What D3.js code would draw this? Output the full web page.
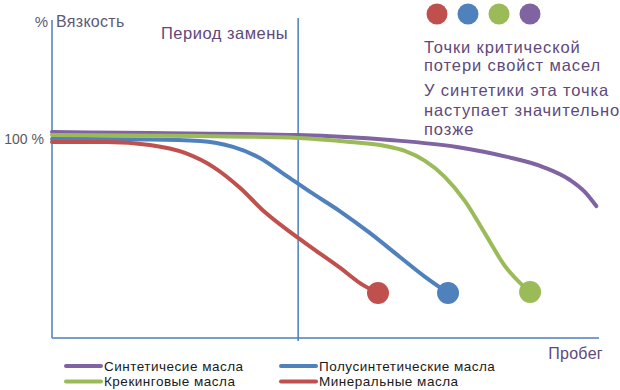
<!DOCTYPE html>
<html>
<head>
<meta charset="utf-8">
<script src="https://cdn.jsdelivr.net/npm/d3@7"></script>
<style>
  html, body { margin: 0; padding: 0; background: #fff; }
  svg { display: block; font-family: "Liberation Sans", Arial, sans-serif; }
</style>
</head>
<body>
<svg id="chart" width="620" height="390"></svg>
<script>
// ─── Data ──────────────────────────────────────────────────────
// x: пробег (0..100, условные единицы), y: вязкость, % (100 = номинал)

const seriesNames = ['Синтетичесие масла', 'Полусинтетические масла', 'Крекинговые масла', 'Минеральные масла'];
const seriesColors = ['#8064a2', '#4f81bd', '#9bbb59', '#c0504d'];

const synthMileage = [0, 17.9, 45.0, 61.8, 74.0, 83.2, 89.8, 94.7, 97.4, 99.5];
const synthVisc    = [103.5, 103.0, 102.0, 99.5, 96.0, 91.0, 85.9, 79.4, 73.4, 66.3];

const semiMileage = [0, 17.9, 27.1, 33.1, 38.0, 42.6, 47.2, 52.6, 58.1, 63.6, 68.2, 72.4];
const semiVisc    = [100.0, 99.7, 99.0, 96.0, 90.5, 82.0, 73.4, 63.8, 52.8, 40.7, 30.7, 22.6];

const crackMileage = [0, 27.1, 45.0, 54.5, 60.9, 64.5, 68.2, 71.8, 75.5, 79.2, 82.8, 85.6, 87.4];
const crackVisc    = [102.0, 101.5, 100.5, 98.5, 96.5, 94.0, 89.0, 81.0, 68.8, 52.3, 36.2, 27.6, 23.1];

const mineralMileage = [0, 10.1, 17.9, 24.3, 29.8, 34.4, 38.9, 43.5, 48.1, 52.7, 56.3, 59.6];
const mineralVisc    = [98.5, 98.5, 97.0, 93.0, 85.4, 75.4, 63.3, 53.3, 44.2, 35.2, 27.6, 22.6];

// серии, у которых есть точка критической потери свойств
const criticalSeries = [1, 2, 3];

const replacementMileage = 45.0;
const yTickLabel = '100 %';
const noteLines = ['Точки критической', 'потери свойст масел'];
const note2Lines = ['У синтетики эта точка', 'наступает значительно', 'позже'];

(function () {
    'use strict';

    const svg = d3.select('#chart');

    const x = d3.scaleLinear().domain([0, 100]).range([52, 599]);
    const y = d3.scaleLinear().domain([0, 100]).range([338, 139]);

    const series = [
        { mileage: synthMileage, visc: synthVisc },
        { mileage: semiMileage, visc: semiVisc },
        { mileage: crackMileage, visc: crackVisc },
        { mileage: mineralMileage, visc: mineralVisc },
    ].map((s, i) => ({
        name: seriesNames[i],
        color: seriesColors[i],
        points: s.mileage.map((m, k) => ({ m, v: s.visc[k] })),
    }));

    const axisColor = '#4a7ebb';
    const textPurple = '#60497a';

    // ─── Axes ────────────────────────────────────────────────────
    svg.append('line')
        .attr('x1', x(0)).attr('x2', x(0))
        .attr('y1', 20).attr('y2', y(0))
        .attr('stroke', axisColor).attr('stroke-width', 1.5);

    svg.append('line')
        .attr('x1', x(0)).attr('x2', x(100))
        .attr('y1', y(0)).attr('y2', y(0))
        .attr('stroke', axisColor).attr('stroke-width', 1.5);

    // replacement period marker
    svg.append('line')
        .attr('x1', x(replacementMileage)).attr('x2', x(replacementMileage))
        .attr('y1', 18).attr('y2', y(0) + 3)
        .attr('stroke', axisColor).attr('stroke-width', 1.5);

    svg.append('text')
        .attr('x', 48).attr('y', 27)
        .attr('text-anchor', 'end')
        .attr('font-size', 15).attr('fill', '#5a5a78')
        .text('%');

    svg.append('text')
        .attr('x', 56).attr('y', 27)
        .attr('font-size', 16).attr('fill', '#5a5a78')
        .attr('letter-spacing', 0.3)
        .text('Вязкость');

    svg.append('text')
        .attr('x', 161).attr('y', 39)
        .attr('font-size', 16.5).attr('fill', textPurple)
        .attr('letter-spacing', 0.5)
        .text('Период замены');

    svg.append('text')
        .attr('x', 44).attr('y', y(100))
        .attr('dy', '0.35em')
        .attr('text-anchor', 'end')
        .attr('font-size', 14).attr('fill', '#595959')
        .text(yTickLabel);

    svg.append('text')
        .attr('x', 603).attr('y', 359)
        .attr('text-anchor', 'end')
        .attr('font-size', 16).attr('fill', textPurple)
        .attr('letter-spacing', 0.3)
        .text('Пробег');

    // ─── Curves ──────────────────────────────────────────────────
    const line = d3.line()
        .x(d => x(d.m))
        .y(d => y(d.v))
        .curve(d3.curveMonotoneX);

    svg.append('g')
        .selectAll('path')
        .data(series)
        .join('path')
        .attr('d', d => line(d.points))
        .attr('fill', 'none')
        .attr('stroke', d => d.color)
        .attr('stroke-width', 4)
        .attr('stroke-linecap', 'round');

    // critical points at line ends
    svg.append('g')
        .selectAll('circle')
        .data(criticalSeries.map(i => series[i]))
        .join('circle')
        .attr('cx', d => x(d.points[d.points.length - 1].m))
        .attr('cy', d => y(d.points[d.points.length - 1].v))
        .attr('r', 11)
        .attr('fill', d => d.color);

    // ─── Top-right note ──────────────────────────────────────────
    const dotOrder = [3, 1, 2, 0];
    svg.append('g')
        .selectAll('circle')
        .data(dotOrder)
        .join('circle')
        .attr('cx', (d, i) => 437 + i * 31)
        .attr('cy', 14)
        .attr('r', 10.5)
        .attr('fill', d => seriesColors[d]);

    svg.append('g')
        .selectAll('text')
        .data(noteLines)
        .join('text')
        .attr('x', 424)
        .attr('y', (d, i) => 53 + i * 18)
        .attr('font-size', 16.5).attr('fill', textPurple)
        .attr('letter-spacing', 0.9)
        .text(d => d);

    svg.append('g')
        .selectAll('text')
        .data(note2Lines)
        .join('text')
        .attr('x', 424)
        .attr('y', (d, i) => 96 + i * 19.5)
        .attr('font-size', 16.5).attr('fill', textPurple)
        .attr('letter-spacing', 0.9)
        .text(d => d);

    // ─── Bottom legend ───────────────────────────────────────────
    const legendPos = [
        { x: 66, y: 366 },
        { x: 281, y: 366 },
        { x: 66, y: 381.5 },
        { x: 281, y: 381.5 },
    ];
    // legend order: synth, semi / crack, mineral
    const legend = svg.append('g')
        .selectAll('g')
        .data(series)
        .join('g')
        .attr('transform', (d, i) => `translate(${legendPos[i].x},${legendPos[i].y})`);

    legend.append('line')
        .attr('x1', 0).attr('x2', 35)
        .attr('stroke', d => d.color)
        .attr('stroke-width', 4)
        .attr('stroke-linecap', 'round');

    legend.append('text')
        .attr('x', 38)
        .attr('dy', '0.35em')
        .attr('font-size', 13.5).attr('fill', '#1a1a1a')
        .attr('letter-spacing', 0.5)
        .text(d => d.name);
})();
</script>
</body>
</html>
